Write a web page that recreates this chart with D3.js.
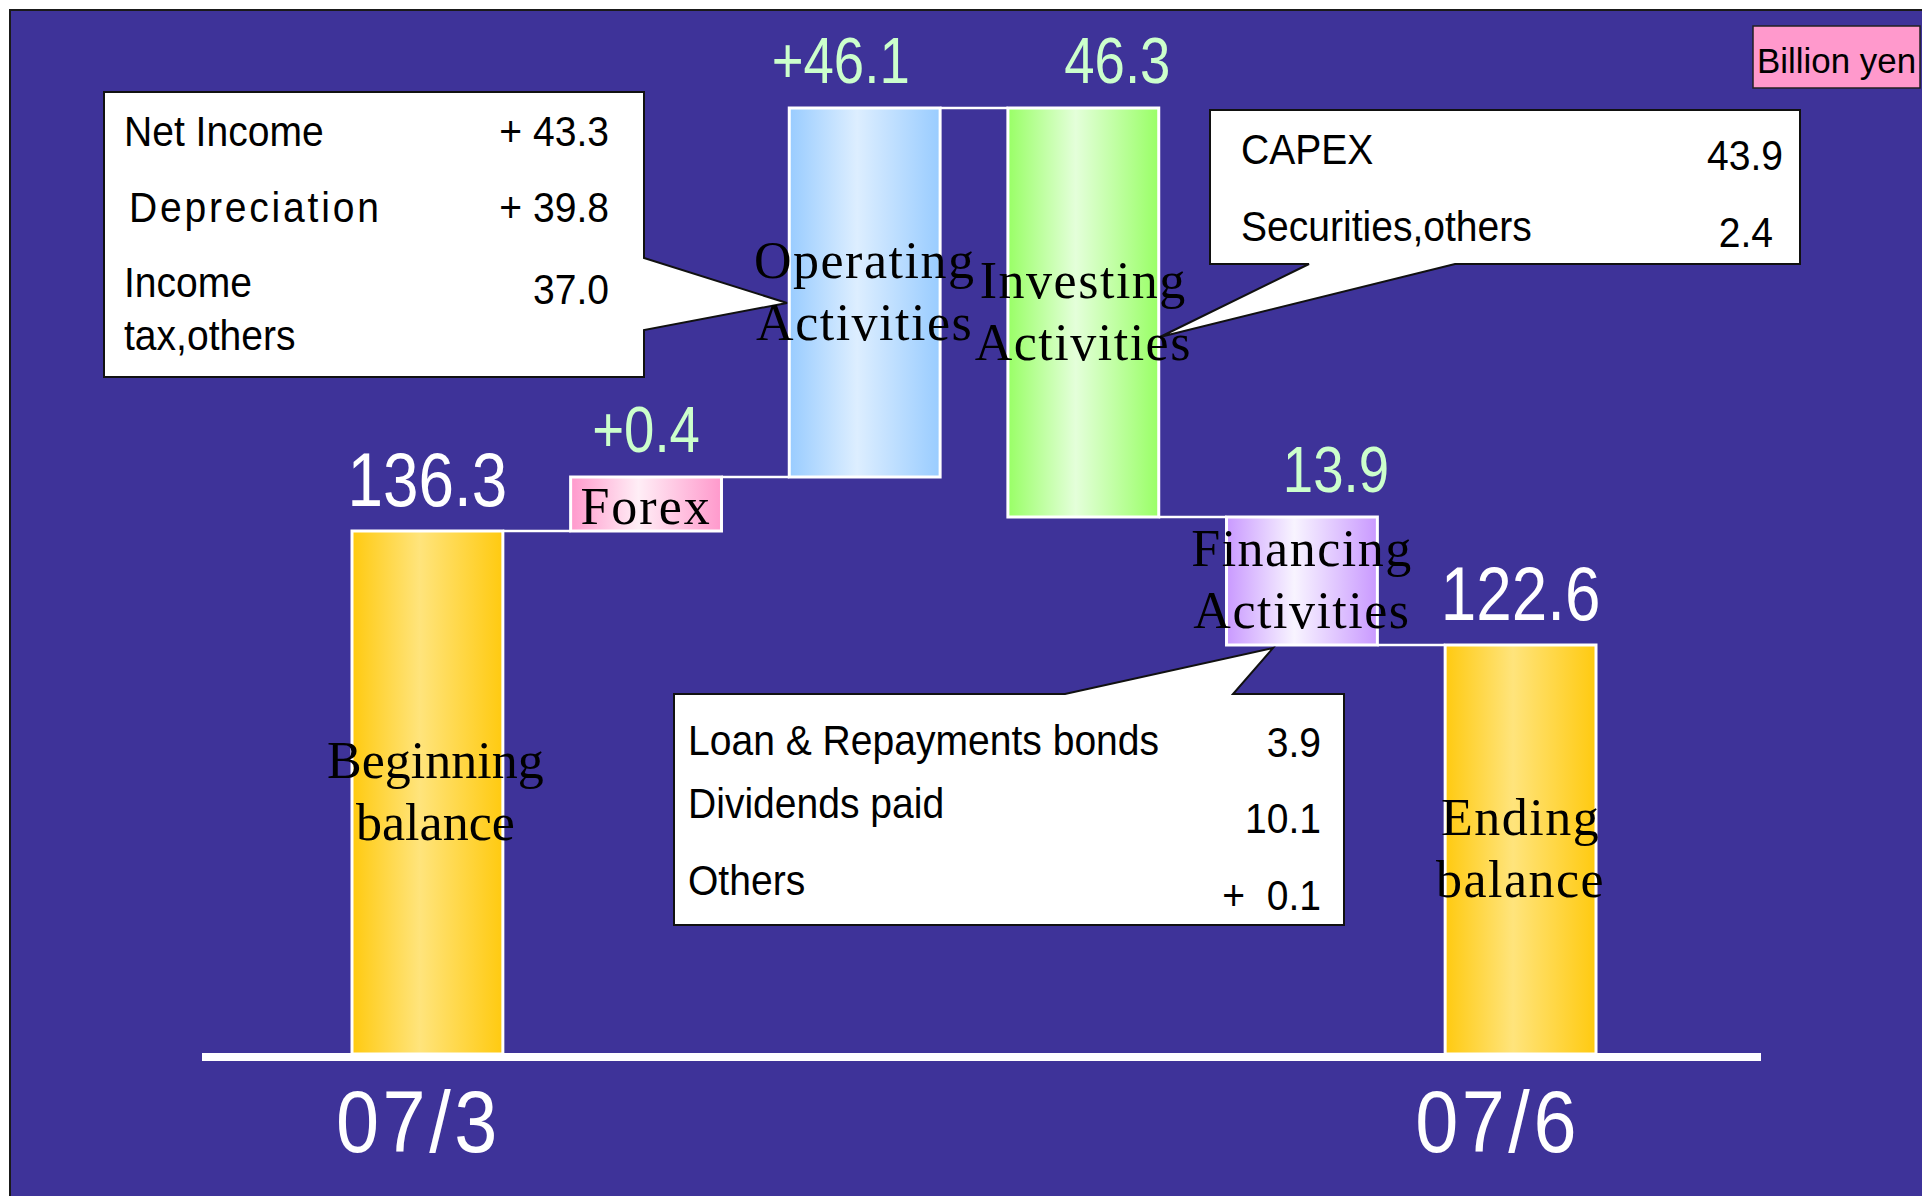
<!DOCTYPE html>
<html>
<head>
<meta charset="utf-8">
<script src="https://cdn.jsdelivr.net/npm/d3@7"></script>
<style>
html, body { margin: 0; padding: 0; background: #fff; }
svg { display: block; }
</style>
</head>
<body>
<svg id="chart" width="1922" height="1196"></svg>
<script>
// Cash flow bridge 07/3 -> 07/6 (billion yen)
var steps = ['Beginning balance', 'Forex', 'Operating Activities', 'Investing Activities', 'Financing Activities', 'Ending balance'];
var amounts = [136.3, 0.4, 46.1, -46.3, -13.9, 122.6];
var isTotal = [true, false, false, false, false, true];
var valueLabels = ['136.3', '+0.4', '+46.1', '46.3', '13.9', '122.6'];
var periods = ['07/3', '07/6'];
var unitLabel = 'Billion yen';

// breakdown callouts
var operatingItems = ['Net Income', 'Depreciation', 'Income\ntax,others'];
var operatingValues = ['+ 43.3', '+ 39.8', '37.0'];
var investingItems = ['CAPEX', 'Securities,others'];
var investingValues = ['43.9', '2.4'];
var financingItems = ['Loan & Repayments bonds', 'Dividends paid', 'Others'];
var financingValues = ['3.9', '10.1', '+  0.1'];

var svg = d3.select('#chart');
var BG = '#3E3399';

// the slide is not drawn to scale, so the value axis is piecewise
var run = 0;
var bars = steps.map(function(name, i) {
	var y0 = isTotal[i] ? 0 : run;
	var y1 = isTotal[i] ? amounts[i] : run + amounts[i];
	run = Math.round(y1 * 10) / 10;
	return { name: name, y0: y0, y1: run, label: valueLabels[i], total: isTotal[i], i: i };
});

var levels = [];
bars.forEach(function(b) {
	[b.y0, b.y1].forEach(function(v) {
		if (levels.indexOf(v) < 0) levels.push(v);
	});
});
levels.sort(d3.ascending);
var yStops = [1054, 645, 531, 517, 477, 108];

var x = d3.scaleBand().domain(steps).range([352, 1596]).paddingInner(0.31).paddingOuter(0);
var y = d3.scaleLinear().domain(levels).range(yStops);
var bw = x.bandwidth();

var fills = [
	['#FFCA10', '#FFE47C'],
	['#FF99CC', '#FFEEF6'],
	['#99CCFF', '#DDEEFF'],
	['#99FF66', '#E4FFDA'],
	['#C999FF', '#F8F4FF'],
	['#FFCA10', '#FFE47C']
];

var defs = svg.append('defs');
fills.forEach(function(c, i) {
	var grad = defs.append('linearGradient').attr('id', 'g' + i)
		.attr('x1', '0%').attr('x2', '100%').attr('y1', '0%').attr('y2', '0%');
	grad.append('stop').attr('offset', '0%').attr('stop-color', c[0]);
	grad.append('stop').attr('offset', '45%').attr('stop-color', c[1]);
	grad.append('stop').attr('offset', '100%').attr('stop-color', c[0]);
});

// background panel
svg.append('rect')
	.attr('x', 10).attr('y', 10)
	.attr('width', 1930).attr('height', 1200)
	.attr('fill', BG)
	.attr('stroke', '#1a1a1a')
	.attr('stroke-width', 2);

function addText(parent, str, px, py, o) {
	var t = parent.append('text')
		.attr('transform', 'translate(' + px + ',' + py + ') scale(' + (o.sx || 1) + ',1)')
		.attr('font-family', o.family || '"Liberation Sans", Arial, sans-serif')
		.attr('font-size', o.size)
		.attr('fill', o.fill || '#000')
		.attr('text-anchor', o.anchor || 'start')
		.style('white-space', 'pre')
		.text(str);
	if (o.ls) t.attr('letter-spacing', o.ls);
	return t;
}

// connectors between bars
var links = svg.append('g');
bars.slice(0, -1).forEach(function(b, i) {
	var level = b.y1;
	links.append('line')
		.attr('x1', x(b.name) + bw)
		.attr('x2', x(bars[i + 1].name))
		.attr('y1', y(level))
		.attr('y2', y(level))
		.attr('stroke', '#fff')
		.attr('stroke-width', 2.5);
});

// bars
svg.append('g').selectAll('rect')
	.data(bars)
	.join('rect')
	.attr('x', function(d) { return x(d.name); })
	.attr('y', function(d) { return y(Math.max(d.y0, d.y1)); })
	.attr('width', bw)
	.attr('height', function(d) { return Math.abs(y(d.y0) - y(d.y1)); })
	.attr('fill', function(d) { return 'url(#g' + d.i + ')'; })
	.attr('stroke', '#fff')
	.attr('stroke-width', 3);

// baseline
svg.append('line')
	.attr('x1', 202).attr('x2', 1761)
	.attr('y1', y(0) + 3).attr('y2', y(0) + 3)
	.attr('stroke', '#fff')
	.attr('stroke-width', 8);

// callouts
function callout(d) {
	svg.append('path')
		.attr('d', d)
		.attr('fill', '#fff')
		.attr('stroke', '#111')
		.attr('stroke-width', 2);
}
callout('M104,92 H644 V258 L787,303 L644,330 V377 H104 Z');
callout('M1210,110 H1800 V264 H1455 L1160,337 L1309,264 H1210 Z');
callout('M674,694 H1065 L1273,648 L1233,694 H1344 V925 H674 Z');

var cg = svg.append('g');
var ct = { size: 42, sx: 0.93 };
var opRows = [146, 222, 297];
var opValRows = [146, 222, 304];
operatingItems.forEach(function(s, i) {
	s.split('\n').forEach(function(line, j) {
		var t = addText(cg, line, i === 1 ? 129 : 124, opRows[i] + j * 53, ct);
		if (i === 1) t.attr('letter-spacing', 3);
	});
	addText(cg, operatingValues[i], 609, opValRows[i], { size: 42, sx: 0.93, anchor: 'end' });
});
[164, 241].forEach(function(row, i) {
	addText(cg, investingItems[i], 1241, row, ct);
	addText(cg, investingValues[i], i === 0 ? 1783 : 1773, row + 6, { size: 42, sx: 0.93, anchor: 'end' });
});
var fnRows = [755, 818, 895];
var fnValRows = [757, 833, 910];
financingItems.forEach(function(s, i) {
	addText(cg, s, 688, fnRows[i], ct);
	addText(cg, financingValues[i], 1321, fnValRows[i], { size: 42, sx: 0.93, anchor: 'end' });
});

// value labels above each bar
var nudge = { 'Operating Activities': -24, 'Investing Activities': 34, 'Financing Activities': 34 };
var vg = svg.append('g');
bars.forEach(function(b) {
	var cx = x(b.name) + bw / 2 + (nudge[b.name] || 0);
	var top = y(Math.max(b.y0, b.y1));
	addText(vg, b.label, cx, top - 25, {
		size: b.total ? 76 : 65,
		sx: 0.84,
		anchor: 'middle',
		fill: b.total ? '#fff' : '#CCFFCC'
	});
});

// category names inside bars
var serif = '"Liberation Serif", "Times New Roman", serif';
var lg = svg.append('g');
bars.forEach(function(b) {
	var cx = x(b.name) + bw / 2 + (b.i === 0 ? 8 : 0);
	var mid = (y(b.y0) + y(b.y1)) / 2;
	var words = b.name.split(' ');
	var ls = b.i === 0 ? 0 : 1.5;
	if (words.length === 1) {
		addText(lg, words[0], cx, mid + 20, { size: 52, family: serif, anchor: 'middle', ls: 2 });
	} else {
		addText(lg, words[0], cx, mid - 15, { size: 52, family: serif, anchor: 'middle', ls: ls });
		addText(lg, words[1], cx, mid + 47, { size: 52, family: serif, anchor: 'middle', ls: ls });
	}
});

// period labels under the balance bars
var periodShift = [-9, -23];
[steps[0], steps[steps.length - 1]].forEach(function(name, i) {
	addText(svg, periods[i], x(name) + bw / 2 + periodShift[i], 1152, { size: 88, sx: 0.88, anchor: 'middle', fill: '#fff', ls: 4 });
});

// unit box
svg.append('rect')
	.attr('x', 1753).attr('y', 26)
	.attr('width', 167).attr('height', 62)
	.attr('fill', '#FF99CC')
	.attr('stroke', '#222')
	.attr('stroke-width', 1.5);
addText(svg, unitLabel, 1757, 73, { size: 36, sx: 0.97 });
</script>
</body>
</html>
